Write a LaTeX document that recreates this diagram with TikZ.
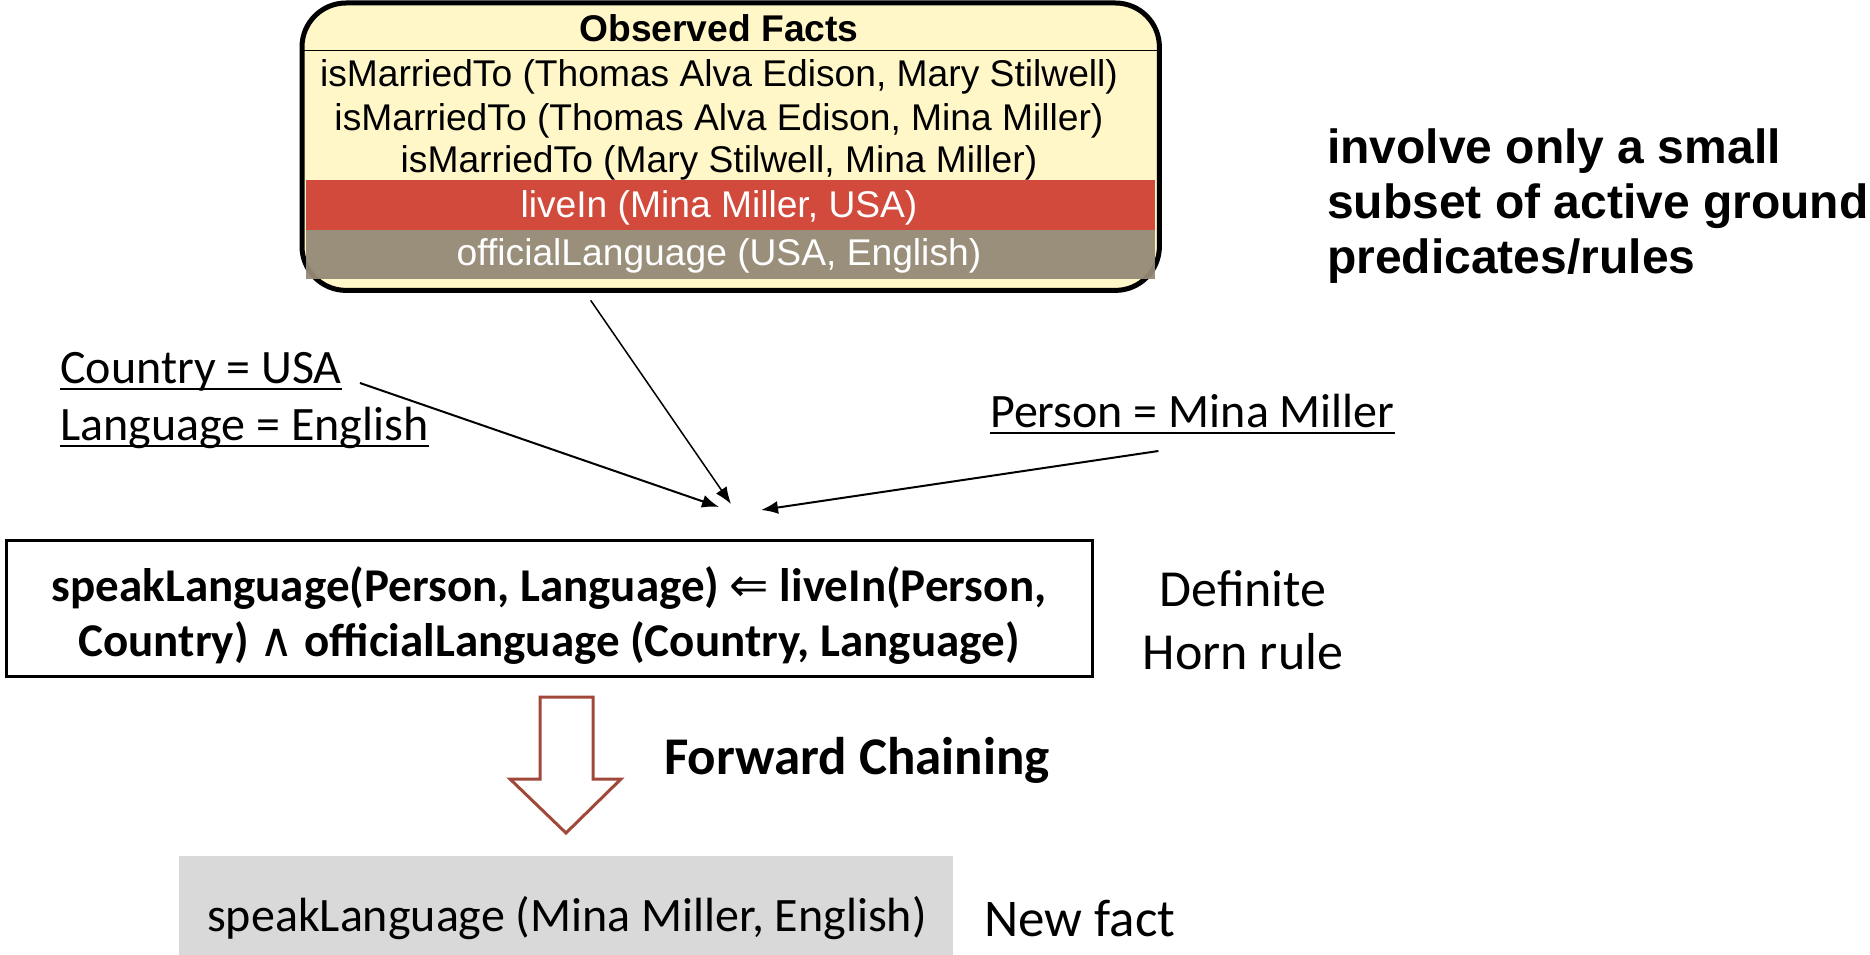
\documentclass[tikz,border=0pt]{standalone}
\usepackage{fontspec}
\setmainfont{Carlito}
\newfontfamily\arial{Liberation Sans}
\newfontfamily\symfont{DejaVu Sans}
\usetikzlibrary{arrows.meta}
\definecolor{factbg}{HTML}{FFF7C8}
\definecolor{livered}{HTML}{D24A3C}
\definecolor{langgrey}{HTML}{958A76}
\definecolor{newgrey}{HTML}{D9D9D9}
\definecolor{chainbrown}{HTML}{A0483A}
\tikzset{
  facttext/.style={font=\arial\fontsize{37.2}{44}\selectfont, inner sep=0},
  bandbox/.style={minimum width=849, minimum height=#1, inner sep=0, anchor=north west},
  eqlabel/.style={font=\fontsize{48}{58}\selectfont, inner sep=0, anchor=base west},
  ulineop/.style={line width=2},
  pointer/.style={line width=2, -{Latex[length=17,width=13]}},
  sidenote/.style={font=\fontsize{52}{63}\selectfont, inner sep=0, align=center},
}
\begin{document}
\begin{tikzpicture}[x=1pt,y=-1pt]
\useasboundingbox (0,0) rectangle (1870,955);

% observed facts panel
\node[fill=factbg, rounded corners=44, minimum width=857, minimum height=287, anchor=north west, inner sep=0] (facts) at (302,3) {};
\draw[line width=1] (304,51) -- (1157,51);
\draw[line width=5, rounded corners=44] (facts.north west) rectangle (facts.south east);
\node[bandbox=50, fill=livered] (redband) at (306,180) {};
\node[bandbox=49, fill=langgrey, fill opacity=0.95] (greyband) at (306,230) {};

\node[facttext, font=\arial\bfseries\fontsize{37.2}{44}\selectfont] (title) at (719,28) {Observed Facts};
\node[facttext] (f1) at (719,77) {isMarriedTo (Thomas Alva Edison, Mary Stilwell)};
\node[facttext] (f2) at (719,121) {isMarriedTo (Thomas Alva Edison, Mina Miller)};
\node[facttext] (f3) at (719,163) {isMarriedTo (Mary Stilwell, Mina Miller)};
\node[facttext, text=white] (f4) at (719,208) {liveIn (Mina Miller, USA)};
\node[facttext, text=white] (f5) at (719,256) {officialLanguage (USA, English)};

% remark on the right
\node[font=\arial\bfseries\fontsize{48}{55}\selectfont, align=left, anchor=west, inner sep=0] (remark) at (1327,206)
  {involve only a small\\subset of active ground\\predicates/rules};

% variable bindings
\node[eqlabel] (country) at (60,383) {Country = USA};
\node[eqlabel] (language) at (60,440) {Language = English};
\node[eqlabel] (person) at (990,427) {Person = Mina Miller};
\draw[ulineop] ([yshift=-6]country.base west) -- ([yshift=-6]country.base east);
\draw[ulineop] ([yshift=-6]language.base west) -- ([yshift=-6]language.base east);
\draw[ulineop] ([yshift=-6]person.base west) -- ([yshift=-6]person.base east);

% the rule
\node[draw, line width=3, minimum width=1086, minimum height=136, inner sep=0] (rulebox) at (549,608) {};
\node[inner sep=0, align=center, font=\bfseries\fontsize{47}{55}\selectfont] (rule) at (549,616)
  {speakLanguage(Person, Language) {\symfont\mdseries ⇐} liveIn(Person,\\
   Country) {\symfont\mdseries ∧} officialLanguage (Country, Language)};
\node[sidenote] (horn) at (1243,620) {Definite\\Horn rule};

% bindings flowing into the rule
\coordinate (in1) at (719,507);
\coordinate (in2) at (731,504);
\coordinate (in3) at (761,510);
\draw[pointer, line width=1.5] ([xshift=-140]facts.south) ++(0,10) -- (in2);
\draw[pointer] ([shift={(18,0)}]country.base east) -- (in1);
\draw[pointer] ([shift={(-34,24)}]person.base) -- (in3);

% forward chaining arrow
\draw[chainbrown, line width=3, fill=white, line join=miter]
  (540,697) -- (593,697) -- (593,779) -- (621,779) -- (566,833) -- (510,779) -- (540,779) -- cycle;
\node[font=\bfseries\fontsize{53}{63}\selectfont, anchor=west, inner sep=0] (chain) at (664,760) {Forward Chaining};

% derived fact
\node[fill=newgrey, minimum width=774, minimum height=100, anchor=north west, inner sep=0] (newfact) at (179,856) {};
\node[font=\fontsize{48}{58}\selectfont, inner sep=0] (newtext) at (567,918) {speakLanguage (Mina Miller, English)};
\node[sidenote, anchor=west, font=\fontsize{53}{63}\selectfont] (newnote) at (984,919) {New fact};
\end{tikzpicture}
\end{document}
